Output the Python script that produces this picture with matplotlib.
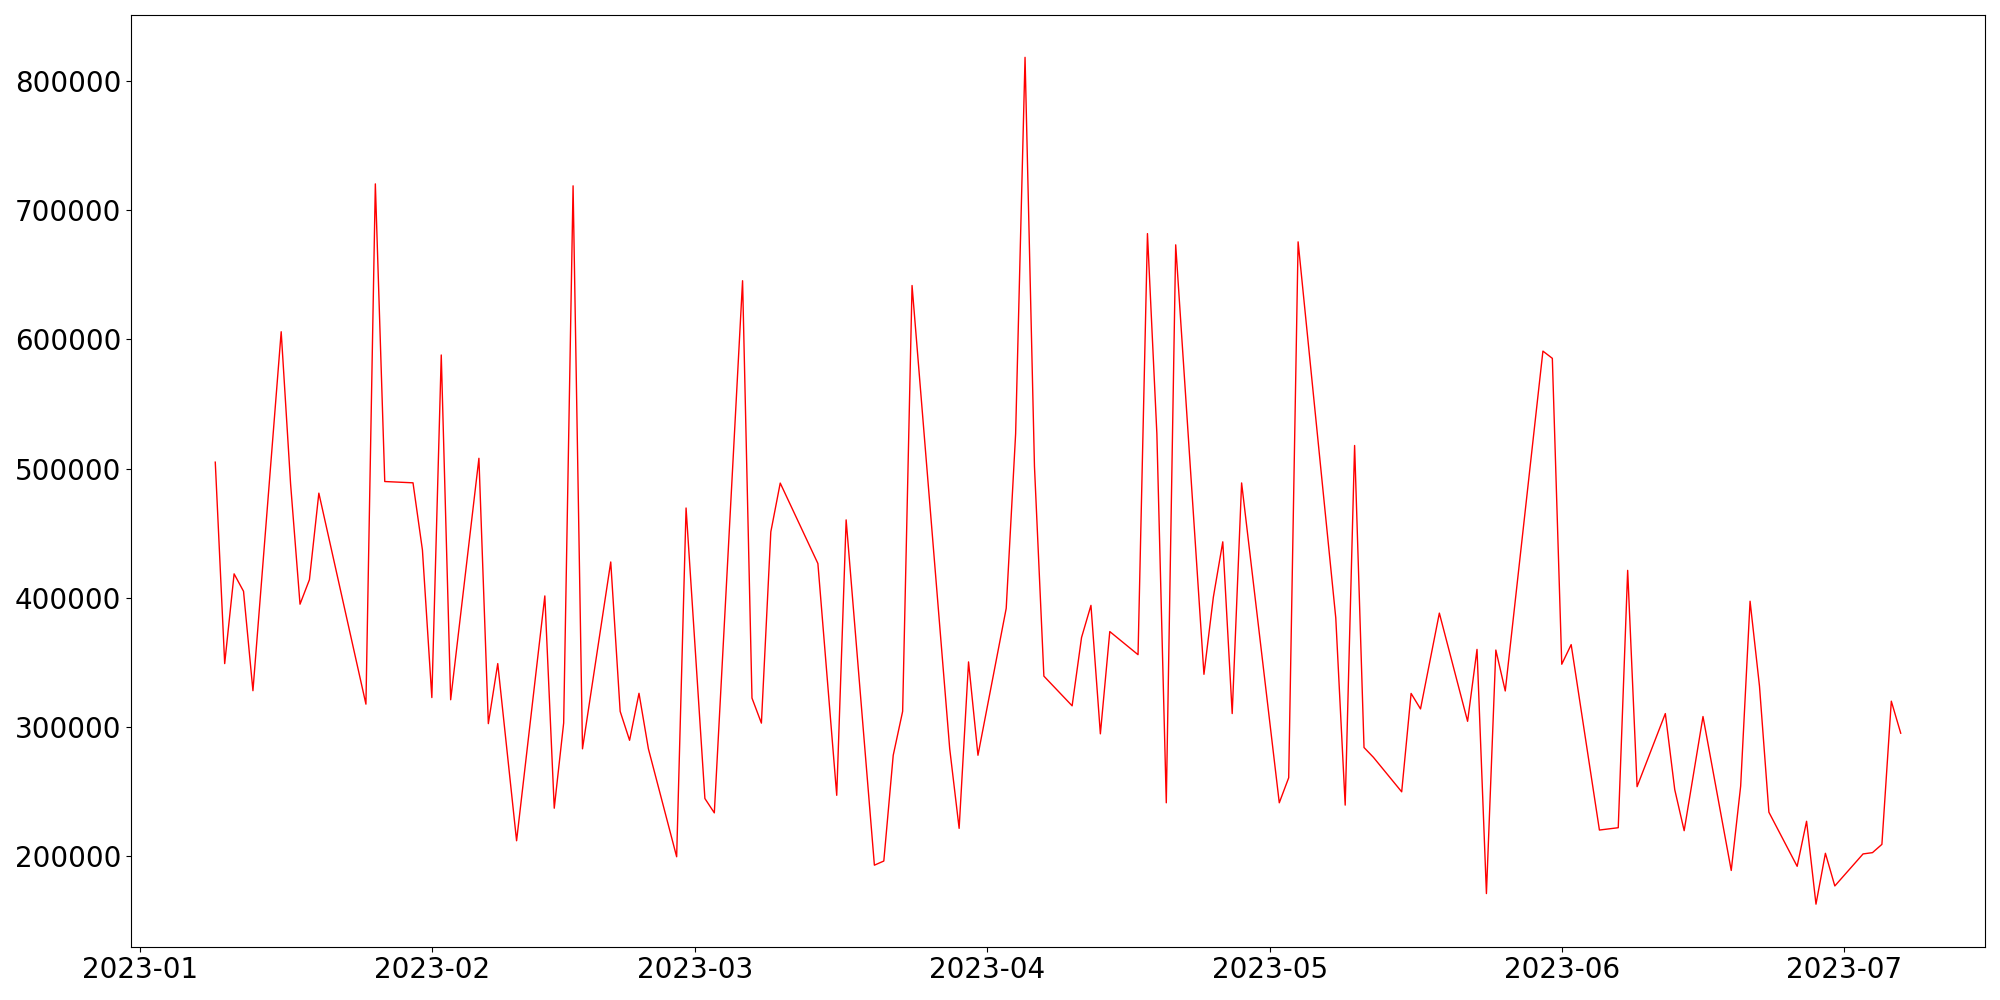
import pandas as pd
import matplotlib
matplotlib.use('Agg')
import matplotlib.pyplot as plt

# Datoer (virkedager med hull) og verdier lest av figuren
dates = [
    '2023-01-09', '2023-01-10', '2023-01-11', '2023-01-12', '2023-01-13',
    '2023-01-16', '2023-01-17', '2023-01-18', '2023-01-19', '2023-01-20',
    '2023-01-25', '2023-01-26', '2023-01-27', '2023-01-30', '2023-01-31',
    '2023-02-01', '2023-02-02', '2023-02-03', '2023-02-06', '2023-02-07',
    '2023-02-08', '2023-02-10', '2023-02-13', '2023-02-14', '2023-02-15',
    '2023-02-16', '2023-02-17', '2023-02-20', '2023-02-21', '2023-02-22',
    '2023-02-23', '2023-02-24', '2023-02-27', '2023-02-28', '2023-03-02',
    '2023-03-03', '2023-03-06', '2023-03-07', '2023-03-08', '2023-03-09',
    '2023-03-10', '2023-03-14', '2023-03-16', '2023-03-17', '2023-03-20',
    '2023-03-21', '2023-03-22', '2023-03-23', '2023-03-24', '2023-03-28',
    '2023-03-29', '2023-03-30', '2023-03-31', '2023-04-03', '2023-04-04',
    '2023-04-05', '2023-04-06', '2023-04-07', '2023-04-10', '2023-04-11',
    '2023-04-12', '2023-04-13', '2023-04-14', '2023-04-17', '2023-04-18',
    '2023-04-19', '2023-04-20', '2023-04-21', '2023-04-24', '2023-04-25',
    '2023-04-26', '2023-04-27', '2023-04-28', '2023-05-02', '2023-05-03',
    '2023-05-04', '2023-05-08', '2023-05-09', '2023-05-10', '2023-05-11',
    '2023-05-12', '2023-05-15', '2023-05-16', '2023-05-17', '2023-05-19',
    '2023-05-22', '2023-05-23', '2023-05-24', '2023-05-25', '2023-05-26',
    '2023-05-30', '2023-05-31', '2023-06-01', '2023-06-02', '2023-06-05',
    '2023-06-07', '2023-06-08', '2023-06-09', '2023-06-12', '2023-06-13',
    '2023-06-14', '2023-06-16', '2023-06-19', '2023-06-20', '2023-06-21',
    '2023-06-22', '2023-06-23', '2023-06-26', '2023-06-27', '2023-06-28',
    '2023-06-29', '2023-06-30', '2023-07-03', '2023-07-04', '2023-07-05',
    '2023-07-06', '2023-07-07',
]

values = [
    505000, 349000, 418500, 405000, 328000,
    606000, 488000, 395000, 414000, 481000,
    317600, 720500, 490000, 489000, 437000,
    322700, 588000, 321000, 508000, 302500,
    349000, 211800, 401400, 237000, 303000,
    719000, 283000, 427700, 312000, 289600,
    326000, 283000, 199400, 469500, 244500,
    233400, 645500, 322300, 302900, 451000,
    488800, 426500, 247000, 460300, 192900,
    196100, 278000, 312000, 641800, 283000,
    221400, 350300, 278000, 391800, 527000,
    818500, 501800, 339300, 316300, 369200,
    394100, 294600, 373800, 355900, 682000,
    527000, 241200, 673300, 340700, 400500,
    443300, 310300, 488900, 241200, 260600,
    675600, 384400, 239400, 517900, 284000,
    276400, 249700, 325900, 313900, 388100,
    304300, 360000, 170900, 359500, 327800,
    591000, 585400, 348500, 363700, 220100,
    221900, 421200, 253700, 310300, 251400,
    219600, 308000, 188800, 254100, 397300,
    331500, 233900, 192000, 226900, 162700,
    202100, 176800, 201600, 202600, 209000,
    319900, 295100,
]

df = pd.DataFrame({'Dato': pd.to_datetime(dates), 'Verdi': values})

# Plotting
plt.figure(figsize=(20, 10), dpi=100)
plt.plot(df['Dato'], df['Verdi'], color='red', linewidth=1)

plt.xticks(fontsize=20)
plt.yticks(fontsize=20)

plt.subplots_adjust(left=0.0655, right=0.9925, top=0.985, bottom=0.0535)
plt.savefig('out.png', dpi=100)
